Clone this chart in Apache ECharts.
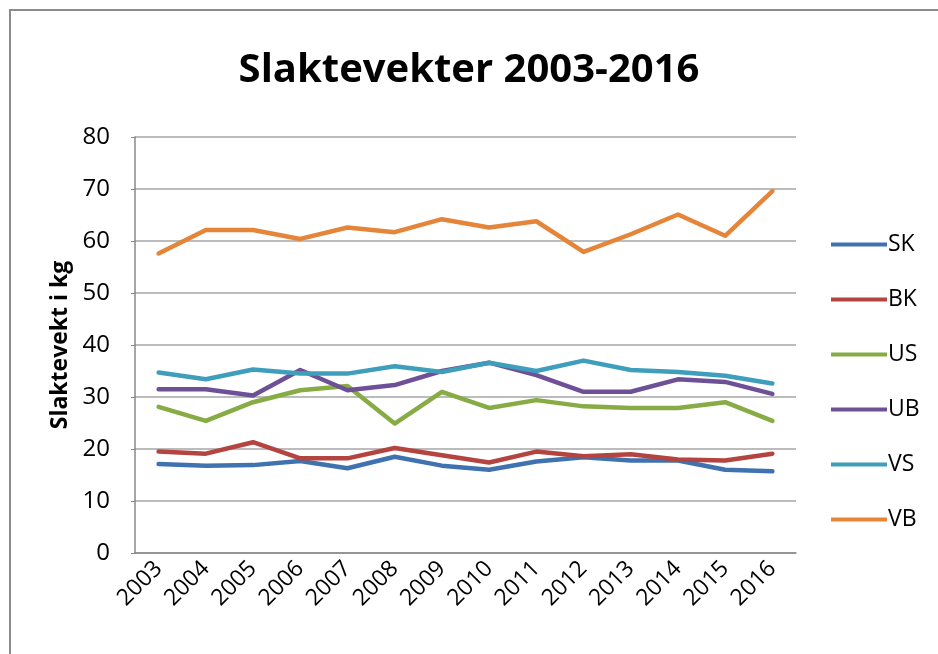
<!DOCTYPE html>
<html>
<head>
<meta charset="utf-8">
<script src="https://cdn.jsdelivr.net/npm/echarts@6/dist/echarts.min.js"></script>
<style>
html,body{margin:0;padding:0;background:#fff;}
#c{width:938px;height:654px;}
</style>
</head>
<body>
<div id="c"></div>
<script>
var years = ['2003','2004','2005','2006','2007','2008','2009','2010','2011','2012','2013','2014','2015','2016'];
var seriesNames = ['SK','BK','US','UB','VS','VB'];
var SK = [17.1,16.8,16.9,17.7,16.3,18.5,16.8,16.0,17.6,18.4,17.8,17.8,16.0,15.7];
var BK = [19.5,19.1,21.3,18.2,18.2,20.2,18.8,17.4,19.5,18.6,19.0,18.0,17.8,19.1];
var US = [28.1,25.4,29.0,31.3,32.1,24.9,31.0,27.9,29.4,28.2,27.9,27.9,29.0,25.4];
var UB = [31.5,31.5,30.3,35.2,31.3,32.3,35.0,36.6,34.2,31.0,31.0,33.4,32.9,30.6];
var VS = [34.7,33.4,35.3,34.5,34.5,35.9,34.8,36.6,35.0,37.0,35.2,34.8,34.1,32.6];
var VB = [57.6,62.1,62.1,60.4,62.6,61.7,64.2,62.6,63.8,57.9,61.3,65.1,61.0,69.6];
var yTicks = [0,10,20,30,40,50,60,70,80];

var values = [SK,BK,US,UB,VS,VB];
var colors = ['#4072B0','#B3443F','#88AC45','#6E5097','#3E9EBB','#E4853A'];
var font = '"Open Sans",sans-serif';

var chart = echarts.init(document.getElementById('c'));
chart.setOption({
  backgroundColor:'#fff',
  animation:false,
  color:colors,
  title:{
    text:'Slaktevekter 2003-2016',
    left:'center', top:46,
    textStyle:{fontFamily:font,fontWeight:'bold',fontSize:40,color:'#000'}
  },
  graphic:[{
    type:'rect', silent:true,
    shape:{x:10,y:10,width:940,height:660},
    style:{fill:'none',stroke:'#8c8c8c',lineWidth:2}
  }],
  legend:{
    orient:'vertical',
    left:826, top:228,
    itemGap:32,
    itemWidth:56, itemHeight:20,
    icon:'path://M0,8 L56,8 L56,12 L0,12 Z',
    textStyle:{fontFamily:font,fontSize:23,lineHeight:20,color:'#000',padding:[0,0,0,-4]},
    data:seriesNames
  },
  grid:{left:135,right:142,top:137,bottom:101,containLabel:false},
  xAxis:{
    type:'category',
    data:years,
    boundaryGap:true,
    axisLine:{lineStyle:{color:'#888',width:1.5}},
    axisTick:{show:false},
    axisLabel:{rotate:45,fontFamily:font,fontSize:23,color:'#000',margin:12,interval:0}
  },
  yAxis:{
    type:'value',
    min:yTicks[0], max:yTicks[yTicks.length-1], interval:10,
    name:'Slaktevekt i kg',
    nameLocation:'middle',
    nameGap:60,
    nameRotate:90,
    nameTextStyle:{fontFamily:font,fontWeight:'bold',fontSize:23,color:'#000'},
    axisLine:{show:true,lineStyle:{color:'#888',width:1.5}},
    axisTick:{show:true,length:4,lineStyle:{color:'#888'}},
    splitLine:{lineStyle:{color:'#a6a6a6',width:1.5}},
    axisLabel:{fontFamily:font,fontSize:24,color:'#000',margin:25}
  },
  series: seriesNames.map(function(n,i){
    return {
      name:n, type:'line', data:values[i],
      symbol:'none', smooth:false,
      lineStyle:{width:4.5,color:colors[i],cap:'round',join:'round'},
      itemStyle:{color:colors[i]}
    };
  })
});
</script>
</body>
</html>
